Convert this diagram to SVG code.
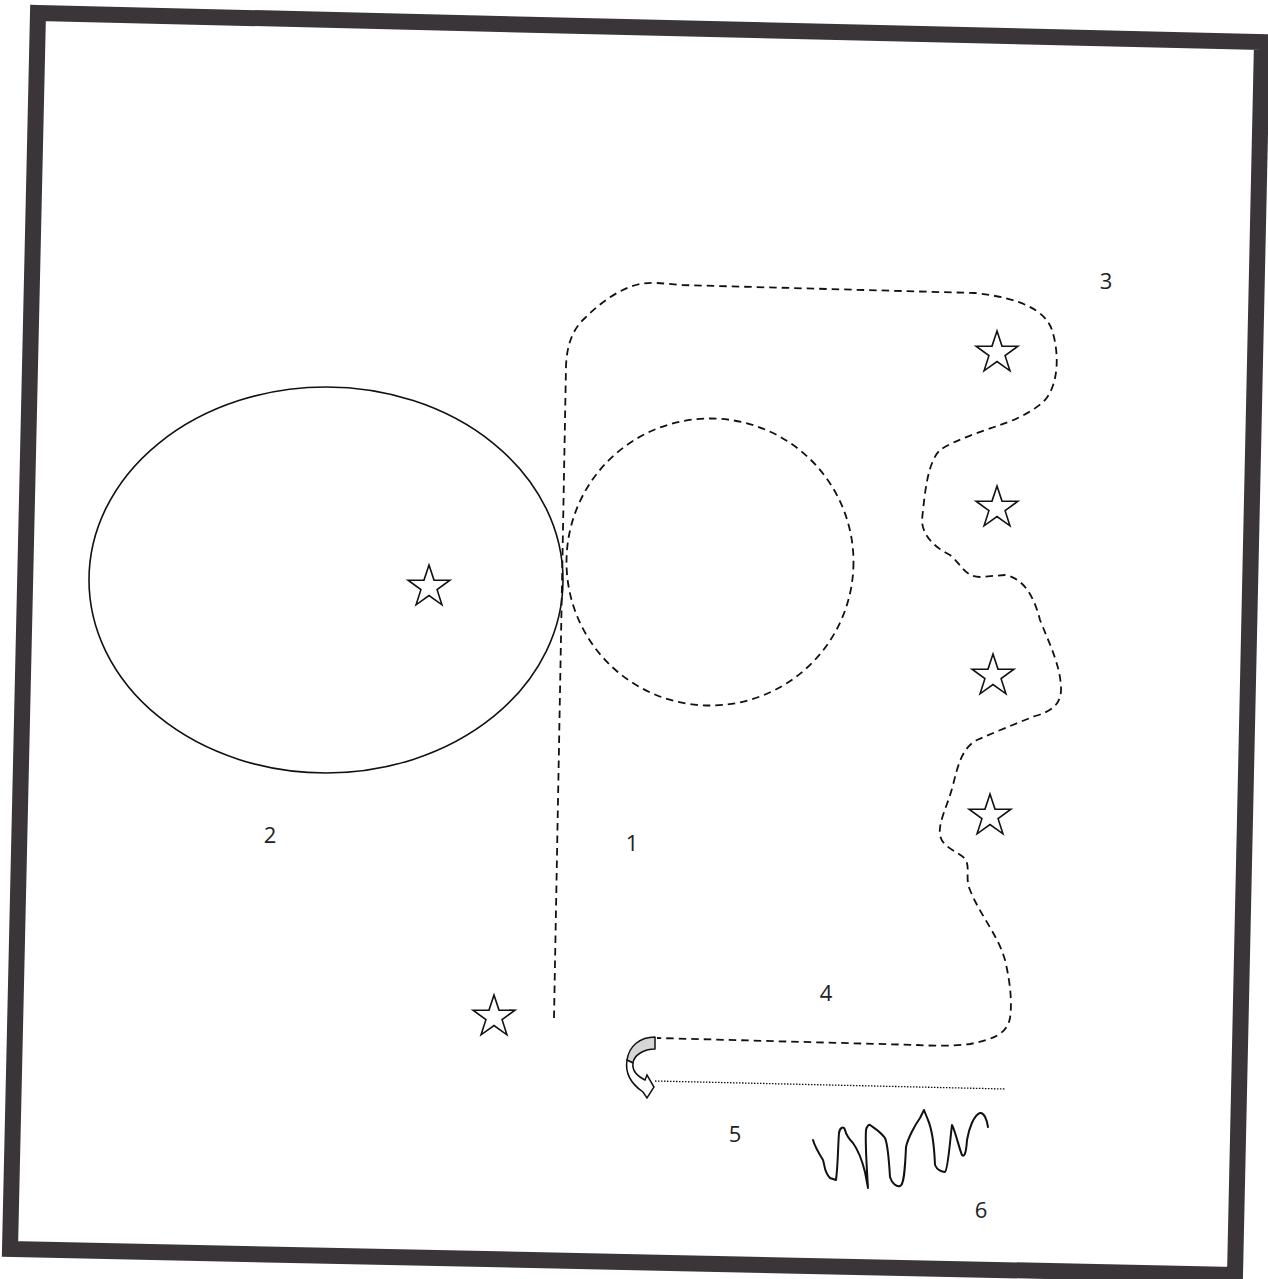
<svg xmlns="http://www.w3.org/2000/svg" width="1268" height="1279" viewBox="0 0 1268 1279">
<style>
.frame{fill:none;stroke:#3a3538;stroke-width:16;stroke-linejoin:miter}
.solid{fill:none;stroke:#111;stroke-width:1.6}
.dash{fill:none;stroke:#111;stroke-width:1.8;stroke-dasharray:7.5 5}
.dot{fill:none;stroke:#111;stroke-width:1.3;stroke-dasharray:1.5 1.5}
.star{fill:#fff;stroke:#111;stroke-width:1.6;stroke-linejoin:miter}
.lbl{font-family:"Open Sans","Liberation Sans",Arial,sans-serif;font-size:22px;fill:#222}
.ink{fill:none;stroke:#111;stroke-width:2;stroke-linejoin:round;stroke-linecap:round}
</style>
<defs>
<polygon id="star" points="0,-22 5,-6.88 20.92,-6.8 8.08,2.63 12.93,17.8 0,8.5 -12.93,17.8 -8.08,2.63 -20.92,-6.8 -5,-6.88"/>
</defs>
<rect width="1268" height="1279" fill="#fff"/>
<polygon class="frame" points="38,13 1262,42 1235,1275 10,1249"/>

<g id="node-2">
<ellipse class="solid" cx="326" cy="580" rx="237" ry="193"/>
<use href="#star" class="star" x="429" y="587"/>
<text class="lbl" x="270" y="843" text-anchor="middle">2</text>
</g>

<g id="node-1">
<circle class="dash" cx="710" cy="562" r="143.5"/>
<text class="lbl" x="632" y="851" text-anchor="middle">1</text>
</g>

<g id="node-3">
<path class="dash" d="M554,1018 L566,366 C567,345 572,330 585,318 C600,303 620,288 640,284 C650,282 660,283 680,285 L975,293 C1020,298 1045,310 1052,330 C1060,355 1058,385 1045,400 C1033,412 1015,420 1000,425 C980,432 955,440 940,450 C928,462 925,490 922,520 C922,532 930,545 950,555 C962,565 965,577 980,577 L1005,575 C1025,578 1035,600 1040,620 C1050,645 1060,665 1061,687 C1062,705 1050,712 1035,716 C1015,724 995,732 977,740 C962,748 958,765 953,785 C948,805 938,822 940,835 C942,848 960,852 966,860 C970,870 965,878 970,890 C980,915 998,935 1005,960 C1011,985 1012,1005 1010,1018 C1007,1035 990,1040 970,1044 C955,1046 935,1046 917,1045 L657,1038"/>
<use href="#star" class="star" x="997" y="353"/>
<use href="#star" class="star" x="997" y="508"/>
<use href="#star" class="star" x="993" y="676"/>
<use href="#star" class="star" x="990" y="816"/>
<text class="lbl" x="1106" y="289" text-anchor="middle">3</text>
</g>

<g id="star-lone">
<use href="#star" class="star" x="494" y="1017"/>
</g>

<g id="node-4">
<text class="lbl" x="826" y="1001" text-anchor="middle">4</text>
</g>

<g id="node-5">
<path d="M655,1037 C640,1037 629,1046 627,1060 L633,1063 C634,1055 644,1049 655,1049 Z" fill="#d6d6d6" stroke="#111" stroke-width="1.5" stroke-linejoin="round"/>
<path d="M627,1060 C625,1072 630,1083 643,1092 L647,1098 L654,1087 L647,1075 L645,1080 C637,1076 632,1070 633,1063 Z" fill="#fff" stroke="#111" stroke-width="1.5" stroke-linejoin="miter"/>
<path class="dot" d="M655,1081 L1005,1089"/>
<text class="lbl" x="735" y="1142" text-anchor="middle">5</text>
</g>

<g id="node-6">
<path class="ink" d="M813,1140 C815,1147 818,1152 823,1160 C825,1166 824,1172 830,1178 L836,1180 C838,1165 838,1145 839,1133 C840,1127 844,1126 845,1130 C846,1134 847,1137 853,1143 C858,1150 862,1160 865,1172 L868,1188 C867,1170 865,1145 866,1130 C867,1125 870,1124 870,1125 C874,1128 880,1131 885,1138 C888,1145 889,1160 890,1177 C892,1184 897,1187 900,1186 C904,1185 905,1170 906,1147 C908,1138 915,1125 920,1118 L924,1110 L928,1120 C931,1127 934,1140 935,1165 C937,1170 942,1172 945,1172 C948,1170 950,1140 952,1125 C955,1130 959,1148 962,1155 C964,1157 966,1155 967,1140 C969,1128 974,1115 980,1113 C984,1112 987,1120 988,1127"/>
<text class="lbl" x="981" y="1218" text-anchor="middle">6</text>
</g>
</svg>
